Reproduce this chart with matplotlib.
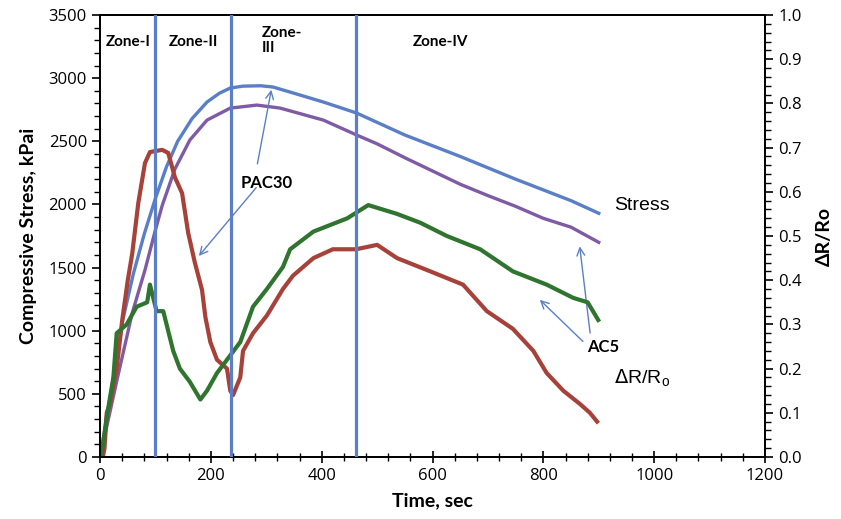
import matplotlib.pyplot as plt
from matplotlib.ticker import MultipleLocator

# stress curves (left axis, kPa)
t_pac30_stress = [0, 10, 25, 41, 60, 80, 100, 120, 140, 166, 193, 215, 235, 258, 290, 312, 343,
                  403, 463, 500, 550, 600, 650, 700, 750, 800, 850, 900]
pac30_stress = [0, 250, 650, 1085, 1450, 1770, 2050, 2300, 2500, 2680, 2811, 2880, 2922, 2937,
                2940, 2930, 2890, 2811, 2724, 2650, 2550, 2465, 2380, 2290, 2200, 2115, 2030, 1930]

t_ac5_stress = [0, 10, 30, 58, 81, 100, 112, 135, 162, 193, 235, 283, 325, 403, 463, 500, 550,
                600, 650, 700, 750, 800, 850, 900]
ac5_stress = [0, 200, 600, 1140, 1480, 1800, 1990, 2280, 2510, 2668, 2763, 2787, 2763, 2668,
              2550, 2480, 2370, 2265, 2160, 2070, 1985, 1890, 1820, 1700]

# resistance change curves (right axis)
t_pac30_dr = [5, 8, 12, 18, 30, 40, 50, 58, 69, 81, 90, 112, 123, 135, 148, 159, 171, 184, 190,
              199, 211, 229, 235, 240, 253, 258, 276, 301, 330, 348, 385, 420, 462, 500, 536, 596,
              655, 698, 745, 782, 806, 836, 866, 884, 897]
pac30_dr = [0.0, 0.02, 0.10, 0.12, 0.20, 0.31, 0.40, 0.46, 0.575, 0.665, 0.69, 0.695, 0.688,
            0.633, 0.597, 0.507, 0.44, 0.378, 0.317, 0.26, 0.22, 0.20, 0.15, 0.14, 0.18, 0.24,
            0.28, 0.32, 0.38, 0.41, 0.45, 0.47, 0.47, 0.48, 0.45, 0.42, 0.39, 0.33, 0.29, 0.24,
            0.19, 0.15, 0.12, 0.10, 0.08]

t_ac5_dr = [2, 12, 24, 30, 48, 66, 85, 90, 102, 114, 132, 144, 162, 181, 193, 211, 235, 253, 276,
            301, 330, 343, 385, 446, 484, 536, 578, 626, 686, 745, 806, 854, 880, 899]
ac5_dr = [0.0, 0.09, 0.18, 0.28, 0.30, 0.34, 0.35, 0.39, 0.33, 0.33, 0.24, 0.20, 0.17, 0.13,
          0.15, 0.19, 0.23, 0.26, 0.34, 0.38, 0.43, 0.47, 0.51, 0.54, 0.57, 0.55, 0.53, 0.50,
          0.47, 0.42, 0.39, 0.36, 0.35, 0.31]

zone_bounds = [99, 236, 462]

plt.rcParams['font.family'] = 'Open Sans'

fig = plt.figure(figsize=(8.41, 5.19), dpi=100)
ax = fig.add_axes([0.119, 0.1195, 0.7906, 0.8515])
ax2 = ax.twinx()

ax.plot(t_pac30_stress, pac30_stress, color='#5a7fc6', lw=2.4)
ax.plot(t_ac5_stress, ac5_stress, color='#7e5ba3', lw=2.4)
ax2.plot(t_pac30_dr, pac30_dr, color='#a6423a', lw=3.0)
ax2.plot(t_ac5_dr, ac5_dr, color='#2f742f', lw=3.0)

for xb in zone_bounds:
    ax2.axvline(xb, color='#5a7fc6', lw=2.3, zorder=5)

ax.set_xlim(0, 1200)
ax.set_ylim(0, 3500)
ax2.set_ylim(0, 1.0)
ax.xaxis.set_major_locator(MultipleLocator(200))
ax.xaxis.set_minor_locator(MultipleLocator(40))
ax.yaxis.set_major_locator(MultipleLocator(500))
ax.yaxis.set_minor_locator(MultipleLocator(100))
ax2.yaxis.set_major_locator(MultipleLocator(0.1))
ax2.yaxis.set_minor_locator(MultipleLocator(0.02))
ax2.yaxis.set_major_formatter(plt.FormatStrFormatter('%.1f'))

ax.tick_params(axis='x', which='major', direction='inout', length=9, width=1.2, labelsize=12)
ax.tick_params(axis='x', which='minor', direction='inout', length=6, width=1.0)
ax.tick_params(axis='y', which='major', direction='out', length=6, width=1.2, labelsize=12)
ax.tick_params(axis='y', which='minor', direction='out', length=4, width=1.0)
ax2.tick_params(axis='y', which='major', direction='out', length=6, width=1.2, labelsize=12)
ax2.tick_params(axis='y', which='minor', direction='out', length=4, width=1.0)
for a in (ax, ax2):
    for s in a.spines.values():
        s.set_linewidth(1.3)

bold = dict(family='Lato', fontweight='bold')
ax.set_xlabel('Time, sec', fontsize=14, labelpad=6, **bold)
ax.set_ylabel('Compressive Stress, kPai', fontsize=14, labelpad=8, **bold)
ax2.set_ylabel('ΔR/Ro', fontsize=14, labelpad=10, **bold)

ax.text(50, 3290, 'Zone-I', ha='center', va='center', fontsize=11, **bold)
ax.text(168, 3290, 'Zone-II', ha='center', va='center', fontsize=11, **bold)
ax.text(292, 3300, 'Zone-\nIII', ha='left', va='center', fontsize=11, linespacing=1.1, **bold)
ax.text(614, 3290, 'Zone-IV', ha='center', va='center', fontsize=11, **bold)

ax.text(300, 2170, 'PAC30', ha='center', va='center', fontsize=12, **bold)
arrow = dict(arrowstyle='->', color='#5a7fc6', lw=1.0, mutation_scale=14)
ax.annotate('', xy=(310, 2930), xytext=(283, 2300), arrowprops=arrow)
ax.annotate('', xy=(175, 1575), xytext=(285, 2150), arrowprops=arrow)

ax.text(908, 870, 'AC5', ha='center', va='center', fontsize=12, **bold)
ax.annotate('', xy=(790, 1260), xytext=(875, 900), arrowprops=arrow)
ax.annotate('', xy=(865, 1690), xytext=(885, 960), arrowprops=arrow)

ax.text(978, 1995, 'Stress', ha='center', va='center', fontsize=14, family='Liberation Sans')
ax.text(978, 625, r'$\Delta$R/R$_\mathregular{o}$', ha='center', va='center', fontsize=14,
        family='Liberation Sans')

fig.savefig('out.png', dpi=100)
